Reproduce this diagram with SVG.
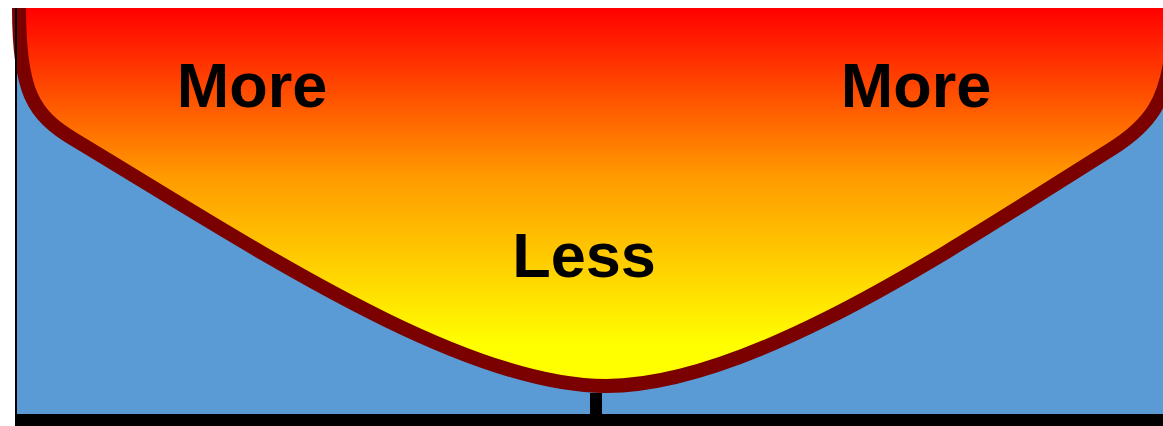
<svg xmlns="http://www.w3.org/2000/svg" width="1163" height="426" viewBox="0 0 1163 426">
<style>
.lbl{font-family:"Liberation Sans",Arial,sans-serif;font-weight:bold;font-size:63px;fill:#000;text-anchor:middle}
</style>
<defs>
<linearGradient id="g" x1="0" y1="8" x2="0" y2="345" gradientUnits="userSpaceOnUse">
<stop offset="0" stop-color="#ff0000"/>
<stop offset="0.5" stop-color="#ff9a00"/>
<stop offset="1" stop-color="#ffff00"/>
</linearGradient>
</defs>
<rect x="16" y="8" width="1147" height="406" fill="#5b9bd5"/>
<path d="M19,8 C19,90 32,115 75,140 C250,245 460,386 606,386 C750,386 950,250 1110,150 C1152,124 1166,100 1172,50 L1180,8 Z" fill="url(#g)"/>
<g id="connectors">
<path d="M19,8 C19,90 32,115 75,140 C250,245 460,386 606,386 C750,386 950,250 1110,150 C1152,124 1166,100 1172,50" fill="none" stroke="#7b0000" stroke-width="14"/>
<line x1="16" y1="8" x2="16" y2="426" stroke="#000" stroke-width="2"/>
<rect x="16" y="414" width="1147" height="12" fill="#000"/>
<rect x="590" y="393" width="12" height="21" fill="#000"/>
</g>
<g id="more-left"><text class="lbl" x="252" y="107">More</text></g>
<g id="more-right"><text class="lbl" x="916" y="107">More</text></g>
<g id="less"><text class="lbl" x="584" y="277">Less</text></g>
</svg>
